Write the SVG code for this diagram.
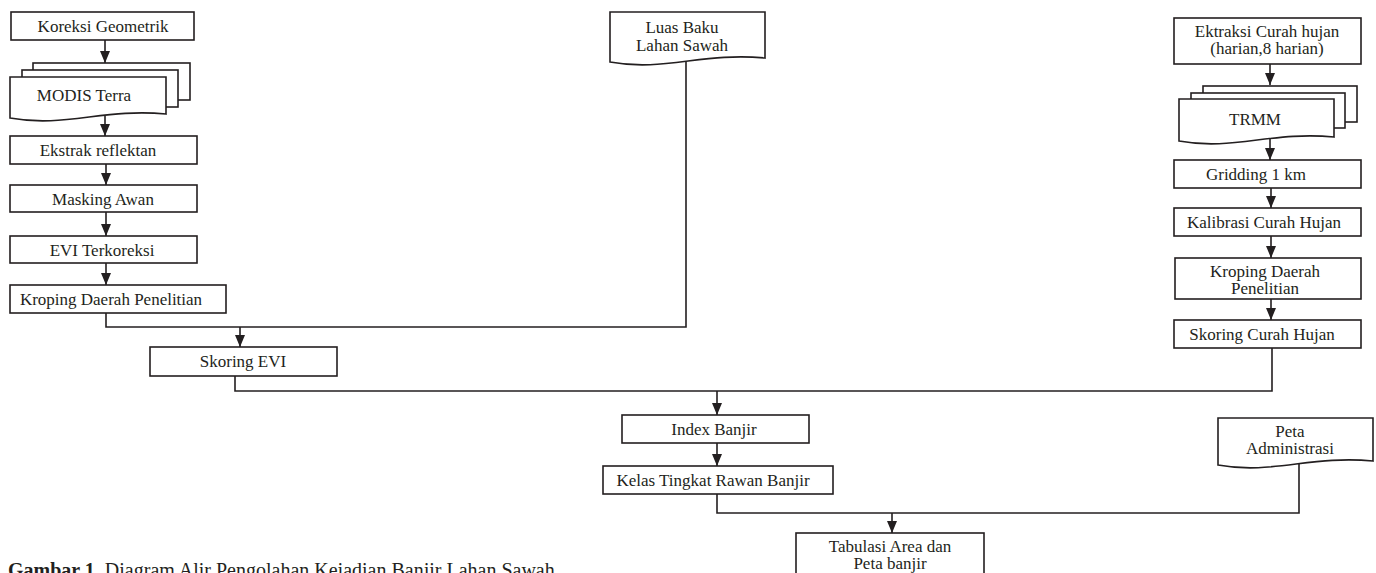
<svg xmlns="http://www.w3.org/2000/svg" width="1376" height="573" viewBox="0 0 1376 573">
<style>
.b{fill:#fff;stroke:#231f20;stroke-width:1.6}
.t{font-family:"Liberation Serif","Times New Roman",serif;font-size:17px;fill:#231f20;text-anchor:middle}
.c{fill:none;stroke:#231f20;stroke-width:1.6}
.cap{font-family:"Liberation Serif","Times New Roman",serif;font-size:20px;fill:#231f20}
</style>
<defs>
<marker id="ah" viewBox="0 0 12 10" refX="12" refY="5" markerWidth="12" markerHeight="10" orient="auto" markerUnits="userSpaceOnUse">
<path d="M0,0 L12,5 L0,10 Z" fill="#231f20"/>
</marker>
</defs>
<rect width="1376" height="573" fill="#fff"/>
<g id="connectors">
<line class="c" x1="105" y1="40" x2="105" y2="63" marker-end="url(#ah)"/>
<line class="c" x1="105" y1="116" x2="105" y2="136" marker-end="url(#ah)"/>
<line class="c" x1="106" y1="164" x2="106" y2="185" marker-end="url(#ah)"/>
<line class="c" x1="106" y1="212" x2="106" y2="236" marker-end="url(#ah)"/>
<line class="c" x1="106" y1="263" x2="106" y2="285" marker-end="url(#ah)"/>
<polyline class="c" points="106,313 106,327 686,327 686,60"/>
<line class="c" x1="240" y1="327" x2="240" y2="347" marker-end="url(#ah)"/>
<polyline class="c" points="235,376 235,391 1272,391 1272,348"/>
<line class="c" x1="717" y1="391" x2="717" y2="415" marker-end="url(#ah)"/>
<line class="c" x1="717" y1="443" x2="717" y2="466" marker-end="url(#ah)"/>
<polyline class="c" points="717,494 717,513 1299,513 1299,463"/>
<line class="c" x1="892" y1="513" x2="892" y2="533" marker-end="url(#ah)"/>
<line class="c" x1="1270" y1="64" x2="1270" y2="85" marker-end="url(#ah)"/>
<line class="c" x1="1270" y1="136" x2="1270" y2="160" marker-end="url(#ah)"/>
<line class="c" x1="1271" y1="188" x2="1271" y2="208" marker-end="url(#ah)"/>
<line class="c" x1="1271" y1="236" x2="1271" y2="258" marker-end="url(#ah)"/>
<line class="c" x1="1271" y1="299" x2="1271" y2="320" marker-end="url(#ah)"/>
</g>
<g id="koreksi"><rect class="b" x="11" y="12" width="183" height="28"/><text class="t" x="103" y="32">Koreksi Geometrik</text></g>
<g id="modis">
<rect class="b" x="33" y="63" width="157" height="37"/>
<rect class="b" x="22" y="70" width="156" height="37"/>
<path class="b" d="M10,77 H166 V114 C104,108 65,128 10,118 Z"/>
<text class="t" x="84" y="101">MODIS Terra</text></g>
<g id="ekstrak"><rect class="b" x="10" y="136" width="187" height="28"/><text class="t" x="98" y="156">Ekstrak reflektan</text></g>
<g id="masking"><rect class="b" x="10" y="185" width="187" height="27"/><text class="t" x="103" y="205">Masking Awan</text></g>
<g id="evi"><rect class="b" x="10" y="236" width="187" height="27"/><text class="t" x="102" y="256">EVI Terkoreksi</text></g>
<g id="kroping1"><rect class="b" x="10" y="285" width="216" height="28"/><text class="t" x="111" y="305">Kroping Daerah Penelitian</text></g>
<g id="skoringevi"><rect class="b" x="150" y="347" width="187" height="29"/><text class="t" x="243" y="367">Skoring EVI</text></g>
<g id="luasbaku">
<path class="b" d="M610,12 H765 V58 C703,52 664,72 610,62 Z"/>
<text class="t" x="682" y="33">Luas Baku</text><text class="t" x="682" y="51">Lahan Sawah</text></g>
<g id="ektraksi"><rect class="b" x="1174" y="18" width="187" height="46"/>
<text class="t" x="1267" y="37">Ektraksi Curah hujan</text><text class="t" x="1267" y="54">(harian,8 harian)</text></g>
<g id="trmm">
<rect class="b" x="1203" y="86" width="154" height="36"/>
<rect class="b" x="1191" y="93" width="154" height="35"/>
<path class="b" d="M1179,99 H1334 V137 C1272,131 1233,151 1179,141 Z"/>
<text class="t" x="1255" y="125">TRMM</text></g>
<g id="gridding"><rect class="b" x="1174" y="160" width="187" height="28"/><text class="t" x="1256" y="180">Gridding 1 km</text></g>
<g id="kalibrasi"><rect class="b" x="1174" y="208" width="187" height="28"/><text class="t" x="1264" y="228">Kalibrasi Curah Hujan</text></g>
<g id="kroping2"><rect class="b" x="1175" y="258" width="186" height="41"/>
<text class="t" x="1265" y="277">Kroping Daerah</text><text class="t" x="1265" y="294">Penelitian</text></g>
<g id="skoringch"><rect class="b" x="1174" y="320" width="187" height="28"/><text class="t" x="1262" y="340">Skoring Curah Hujan</text></g>
<g id="index"><rect class="b" x="622" y="415" width="187" height="28"/><text class="t" x="714" y="435">Index Banjir</text></g>
<g id="kelas"><rect class="b" x="603" y="466" width="230" height="28"/><text class="t" x="713" y="486">Kelas Tingkat Rawan Banjir</text></g>
<g id="petaadmin">
<path class="b" d="M1218,418 H1373 V461 C1311,455 1272,475 1218,465 Z"/>
<text class="t" x="1290" y="437">Peta</text><text class="t" x="1290" y="454">Administrasi</text></g>
<g id="tabulasi"><rect class="b" x="796" y="533" width="188" height="50"/>
<text class="t" x="890" y="552">Tabulasi Area dan</text><text class="t" x="890" y="569">Peta banjir</text></g>
<text class="cap" x="8" y="577"><tspan font-weight="bold">Gambar 1.</tspan> Diagram Alir Pengolahan Kejadian Banjir Lahan Sawah</text>
</svg>
